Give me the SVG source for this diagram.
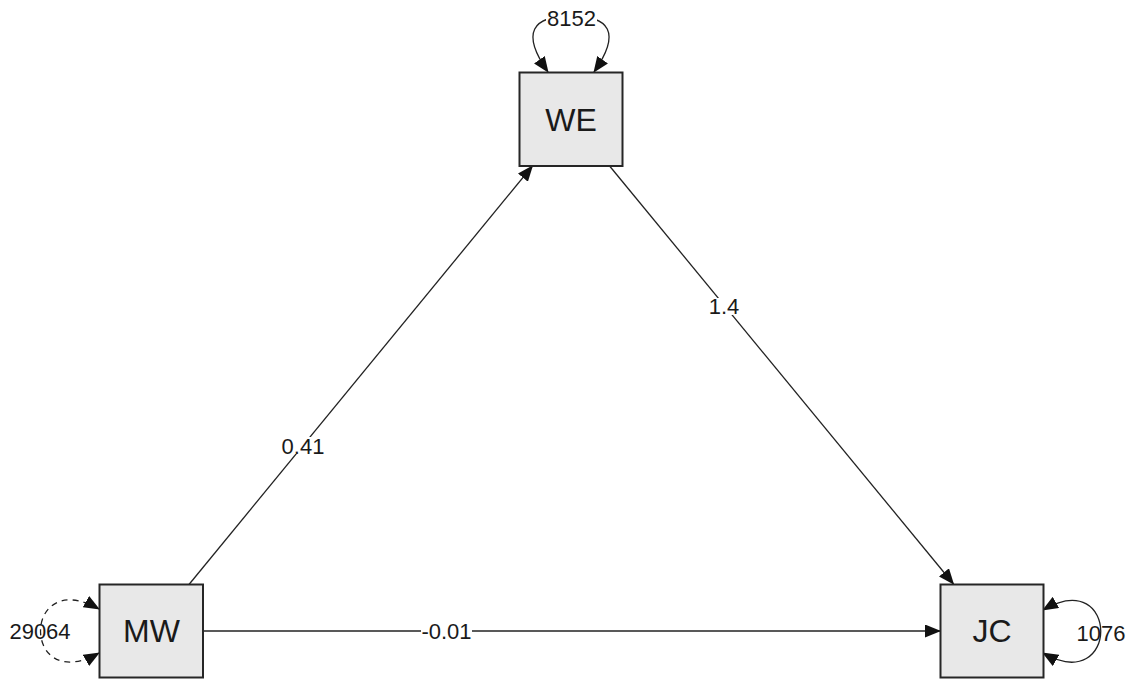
<svg xmlns="http://www.w3.org/2000/svg" width="1130" height="679" viewBox="0 0 1130 679">
  <style>
    .node rect { fill: #e8e8e8; stroke: #262626; stroke-width: 2; }
    .node text { font-family: "Liberation Sans", Arial, sans-serif; font-size: 32px; fill: #1a1a1a; text-anchor: middle; }
    .edge { fill: none; stroke: #222; stroke-width: 1.3; }
    .dash { stroke-dasharray: 6 5; }
    .lbl { font-family: "Liberation Sans", Arial, sans-serif; font-size: 22px; fill: #1a1a1a; text-anchor: middle; }
    .bg { fill: #ffffff; }
  </style>
  <defs>
    <marker id="arr" viewBox="0 0 16 13" refX="15" refY="6.5" markerWidth="16" markerHeight="13" markerUnits="userSpaceOnUse" orient="auto-start-reverse">
      <path d="M0,0 L16,6.5 L0,13 z" fill="#111"/>
    </marker>
  </defs>
  <rect width="1130" height="679" fill="#ffffff"/>

  <g id="connectors">
    <!-- MW -> WE -->
    <line class="edge" x1="189" y1="584.5" x2="532.4" y2="166" marker-end="url(#arr)"/>
    <!-- WE -> JC -->
    <line class="edge" x1="609.6" y1="166" x2="953.5" y2="584" marker-end="url(#arr)"/>
    <!-- MW -> JC -->
    <line class="edge" x1="203.5" y1="631" x2="940" y2="631" marker-end="url(#arr)"/>
    <!-- WE self loop -->
    <path class="edge" d="M 548 72 C 520 32, 533 16, 571 16 C 609 16, 622 32, 594 72" marker-start="url(#arr)" marker-end="url(#arr)"/>
    <!-- MW self loop (dashed) -->
    <path class="edge dash" d="M 99 609 C 21 565, 21 697, 99 653" marker-start="url(#arr)" marker-end="url(#arr)"/>
    <!-- JC self loop -->
    <path class="edge" d="M 1043 610 C 1120 565, 1120 697, 1043 653" marker-start="url(#arr)" marker-end="url(#arr)"/>

    <!-- edge labels -->
    <rect class="bg" x="291" y="437" width="28" height="17"/>
    <text class="lbl" x="303" y="453.5">0.41</text>
    <rect class="bg" x="711" y="298" width="27" height="17"/>
    <text class="lbl" x="724" y="313.5">1.4</text>
    <rect class="bg" x="421" y="622" width="51" height="18"/>
    <text class="lbl" x="446.5" y="639">-0.01</text>
    <rect class="bg" x="546" y="10" width="51" height="18"/>
    <text class="lbl" x="571.5" y="26">8152</text>
    <text class="lbl" x="40" y="638.5">29064</text>
    <text class="lbl" x="1101" y="641">1076</text>
  </g>

  <g id="node-WE" class="node">
    <rect x="519.5" y="72.5" width="103" height="93.5"/>
    <text x="571" y="130.5">WE</text>
  </g>
  <g id="node-MW" class="node">
    <rect x="99.5" y="584.5" width="103.5" height="93"/>
    <text x="151.5" y="642">MW</text>
  </g>
  <g id="node-JC" class="node">
    <rect x="940.5" y="584.5" width="103" height="93"/>
    <text x="992" y="642">JC</text>
  </g>
</svg>
